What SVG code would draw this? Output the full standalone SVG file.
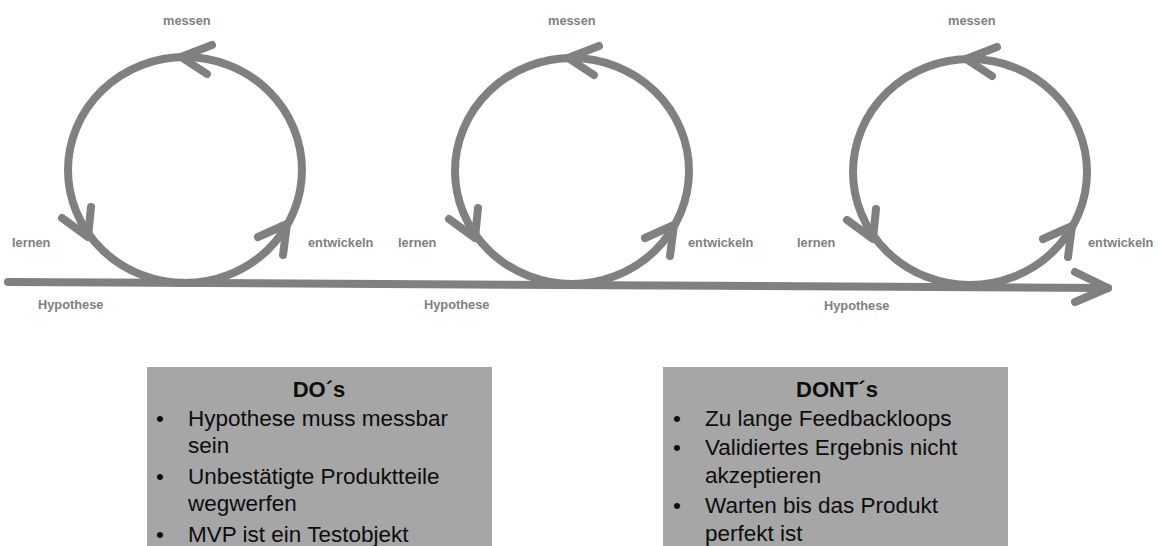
<svg xmlns="http://www.w3.org/2000/svg" xmlns:xlink="http://www.w3.org/1999/xlink" width="1160" height="546" viewBox="0 0 1160 546">
<style>
.ln{fill:none;stroke:#808080;stroke-width:8;stroke-linecap:round;stroke-linejoin:round}
.lbl{font-family:"Liberation Sans",Arial,sans-serif;font-weight:bold;font-size:12.8px;fill:#808080}
.box{fill:#a6a6a6}
.ttl{font-family:"Liberation Sans",Arial,sans-serif;font-weight:bold;font-size:22px;fill:#0d0d0d;text-anchor:middle}
.txt{font-family:"Liberation Sans",Arial,sans-serif;font-size:22.5px;fill:#0d0d0d}
</style>
<defs>
<g id="cycle">
<ellipse class="ln" cx="185" cy="170" rx="117" ry="113"/>
<polyline class="ln" points="212,45 181,57 207,74"/>
<polyline class="ln" points="62,218 88,237 91,207"/>
<polyline class="ln" points="258,237 287,224 283,255"/>
</g>
</defs>
<rect width="1160" height="546" fill="#ffffff"/>
<g id="connectors">
<line class="ln" x1="8" y1="282" x2="1108" y2="288"/>
<polyline class="ln" points="1075,272 1108,288 1075,302"/>
</g>
<g id="cycle1">
<use xlink:href="#cycle"/>
<text class="lbl" x="163" y="25">messen</text>
<text class="lbl" x="12" y="247">lernen</text>
<text class="lbl" x="308" y="247">entwickeln</text>
<text class="lbl" x="38" y="309">Hypothese</text>
</g>
<g id="cycle2">
<use xlink:href="#cycle" transform="translate(387,1)"/>
<text class="lbl" x="548" y="25">messen</text>
<text class="lbl" x="398" y="247">lernen</text>
<text class="lbl" x="688" y="247">entwickeln</text>
<text class="lbl" x="424" y="309">Hypothese</text>
</g>
<g id="cycle3">
<use xlink:href="#cycle" transform="translate(785,2)"/>
<text class="lbl" x="948" y="25">messen</text>
<text class="lbl" x="797" y="247">lernen</text>
<text class="lbl" x="1088" y="247">entwickeln</text>
<text class="lbl" x="824" y="310">Hypothese</text>
</g>
<g id="dos">
<rect class="box" x="147" y="367" width="345" height="179"/>
<text class="ttl" x="319" y="397">DO´s</text>
<text class="txt" x="156" y="426">•</text>
<text class="txt" x="188" y="426">Hypothese muss messbar</text>
<text class="txt" x="188" y="453">sein</text>
<text class="txt" x="156" y="484">•</text>
<text class="txt" x="188" y="484">Unbestätigte Produktteile</text>
<text class="txt" x="188" y="511">wegwerfen</text>
<text class="txt" x="156" y="542">•</text>
<text class="txt" x="188" y="542">MVP ist ein Testobjekt</text>
</g>
<g id="donts">
<rect class="box" x="663" y="367" width="345" height="179"/>
<text class="ttl" x="837" y="397">DONT´s</text>
<text class="txt" x="673" y="426">•</text>
<text class="txt" x="705" y="426">Zu lange Feedbackloops</text>
<text class="txt" x="673" y="455">•</text>
<text class="txt" x="705" y="455">Validiertes Ergebnis nicht</text>
<text class="txt" x="705" y="483">akzeptieren</text>
<text class="txt" x="673" y="513">•</text>
<text class="txt" x="705" y="513">Warten bis das Produkt</text>
<text class="txt" x="705" y="541">perfekt ist</text>
</g>
</svg>
